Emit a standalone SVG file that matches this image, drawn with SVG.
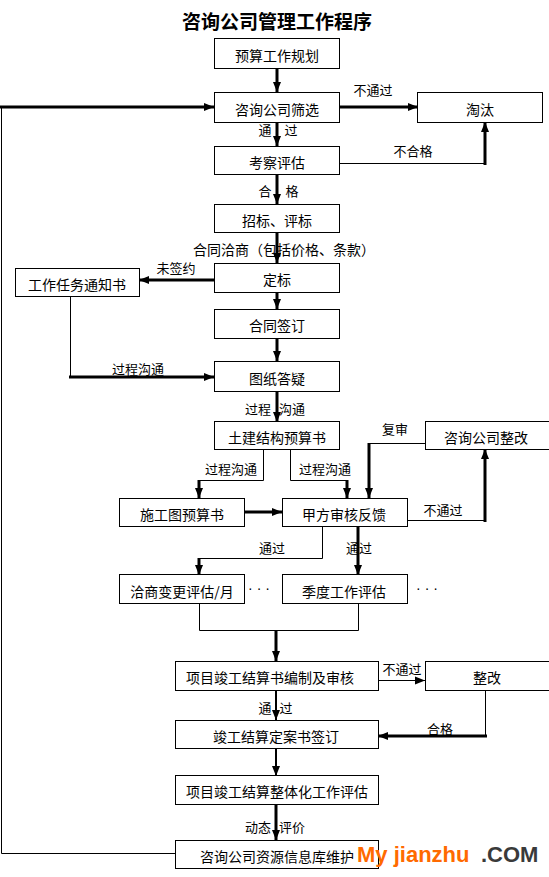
<svg xmlns="http://www.w3.org/2000/svg" width="549" height="877" viewBox="0 0 549 877">
<style>
.box{fill:#fff;stroke:#000;stroke-width:1}
.t{font-family:"Noto Sans CJK SC","Noto Sans CJK TC",sans-serif;font-size:14px;text-anchor:middle;dominant-baseline:central;fill:#000}
.l{font-family:"Noto Sans CJK SC","Noto Sans CJK TC",sans-serif;font-size:13px;text-anchor:middle;dominant-baseline:central;fill:#000}
.dots{font-family:"Liberation Sans",Arial,sans-serif;font-size:14px;text-anchor:middle;dominant-baseline:central;fill:#000}
.ls{text-anchor:start}
.le{text-anchor:end}
.thick{stroke:#000;stroke-width:3;fill:none}
.mid{stroke:#000;stroke-width:2;fill:none}
.thin{stroke:#000;stroke-width:1;fill:none}
.ar{marker-end:url(#ah)}
</style>
<defs>
<marker id="ah" markerUnits="userSpaceOnUse" markerWidth="10" markerHeight="10" viewBox="0 0 10 10" refX="10" refY="5" orient="auto">
<path d="M0,1 L10,5 L0,9 z" fill="#000"/>
</marker>
</defs>
<rect width="549" height="877" fill="#fff"/>
<text x="277" y="20" style="font-family:'Noto Sans CJK SC','Noto Sans CJK TC',sans-serif;font-size:19px;font-weight:bold;text-anchor:middle;dominant-baseline:central">咨询公司管理工作程序</text>

<g id="connectors">
<path class="thick ar" d="M277,68 V92"/>
<path class="thin" d="M175,853.5 H1.5 V107"/>
<path class="thick ar" d="M0,107 H214"/>
<path class="thick ar" d="M339,107 H418"/>
<path class="thick ar" d="M277,122 V146"/>
<path class="thin" d="M339,163.5 H485"/>
<path class="thick ar" d="M485,165 V122"/>
<path class="thick ar" d="M277,174 V204"/>
<path class="thick ar" d="M277,232 V263"/>
<path class="thick ar" d="M214,280 H139"/>
<path class="thick ar" d="M277,292 V309"/>
<path class="thick ar" d="M277,338 V361"/>
<path class="thin" d="M70.5,296 V377"/>
<path class="thick ar" d="M69,377 H214"/>
<path class="thick ar" d="M277,391 V422"/>
<path class="thin" d="M263.5,449 V480.5 H199"/>
<path class="thick ar" d="M199,480 V498"/>
<path class="thin" d="M290.5,449 V480.5 H347"/>
<path class="thick ar" d="M347,480 V498"/>
<path class="thin" d="M425,443.5 H369"/>
<path class="thick ar" d="M369,443 V498"/>
<path class="thick ar" d="M244,512 H282"/>
<path class="thin" d="M407,520.5 H485"/>
<path class="thick ar" d="M485,522 V449"/>
<path class="thin" d="M322.5,527 V558.5 H199"/>
<path class="thick ar" d="M199,558 V575"/>
<path class="thick ar" d="M358,527 V575"/>
<path class="thin" d="M199.5,604 V630.5 H358.5 V604"/>
<path class="thick ar" d="M276,630 V661"/>
<path class="thin ar" d="M378,680.5 H425"/>
<path class="thin" d="M485.5,690 V736"/>
<path class="thick ar" d="M487,736 H378"/>
<path class="mid ar" d="M276,690 V720"/>
<path class="mid ar" d="M276,748 V776"/>
<path class="thick ar" d="M276,804 V840"/>
</g>

<g id="labels">
<text class="l" x="373" y="89">不通过</text>
<text class="l" x="265" y="129">通</text>
<text class="l" x="291" y="129">过</text>
<text class="l" x="413" y="150">不合格</text>
<text class="l" x="265" y="190">合</text>
<text class="l" x="292" y="190">格</text>
<text class="t" x="284" y="249">合同洽商（包括价格、条款）</text>
<text class="l" x="176" y="267">未签约</text>
<text class="l" x="138" y="368">过程沟通</text>
<text class="l le" x="271" y="408">过程</text>
<text class="l ls" x="279" y="408">沟通</text>
<text class="l" x="395" y="428">复审</text>
<text class="l" x="231" y="468">过程沟通</text>
<text class="l" x="325" y="468">过程沟通</text>
<text class="l" x="443" y="509">不通过</text>
<text class="l" x="272" y="547">通过</text>
<text class="l" x="359" y="547">通过</text>
<text class="dots" x="259" y="588">· · ·</text>
<text class="dots" x="427" y="588">· · ·</text>
<text class="l" x="402" y="668">不通过</text>
<text class="l" x="265" y="707">通</text>
<text class="l" x="286" y="707">过</text>
<text class="l" x="440" y="728">合格</text>
<text class="l le" x="271" y="826">动态</text>
<text class="l ls" x="279" y="826">评价</text>
</g>

<g id="n1"><rect class="box" x="214.5" y="38.5" width="125" height="30"/><text class="t" x="277" y="55">预算工作规划</text></g>
<g id="n2"><rect class="box" x="214.5" y="92.5" width="125" height="30"/><text class="t" x="277" y="109">咨询公司筛选</text></g>
<g id="n3"><rect class="box" x="417.5" y="92.5" width="125" height="30"/><text class="t" x="480" y="109">淘汰</text></g>
<g id="n4"><rect class="box" x="214.5" y="146.5" width="125" height="28"/><text class="t" x="277" y="162">考察评估</text></g>
<g id="n5"><rect class="box" x="214.5" y="204.5" width="125" height="28"/><text class="t" x="277" y="220">招标、评标</text></g>
<g id="n6"><rect class="box" x="214.5" y="263.5" width="125" height="29"/><text class="t" x="277" y="279">定标</text></g>
<g id="n7"><rect class="box" x="15.5" y="268.5" width="124" height="28"/><text class="t" x="77" y="284">工作任务通知书</text></g>
<g id="n8"><rect class="box" x="214.5" y="309.5" width="125" height="29"/><text class="t" x="277" y="325">合同签订</text></g>
<g id="n9"><rect class="box" x="214.5" y="361.5" width="125" height="30"/><text class="t" x="277" y="378">图纸答疑</text></g>
<g id="n10"><rect class="box" x="214.5" y="421.5" width="125" height="28"/><text class="t" x="277" y="437">土建结构预算书</text></g>
<g id="n11"><rect class="box" x="425.5" y="421.5" width="124" height="28"/><text class="t" x="486" y="437">咨询公司整改</text></g>
<g id="n12"><rect class="box" x="119.5" y="498.5" width="125" height="28"/><text class="t" x="182" y="514">施工图预算书</text></g>
<g id="n13"><rect class="box" x="282.5" y="498.5" width="125" height="28"/><text class="t" x="344" y="514">甲方审核反馈</text></g>
<g id="n14"><rect class="box" x="119.5" y="574.5" width="125" height="29"/><text class="t" x="182" y="591">洽商变更评估/月</text></g>
<g id="n15"><rect class="box" x="282.5" y="574.5" width="125" height="29"/><text class="t" x="344" y="591">季度工作评估</text></g>
<g id="n16"><rect class="box" x="175.5" y="661.5" width="203" height="29"/><text class="t ls" x="186" y="677">项目竣工结算书编制及审核</text></g>
<g id="n17"><rect class="box" x="425.5" y="661.5" width="124" height="29"/><text class="t" x="487" y="677">整改</text></g>
<g id="n18"><rect class="box" x="175.5" y="720.5" width="203" height="28"/><text class="t" x="276" y="736">竣工结算定案书签订</text></g>
<g id="n19"><rect class="box" x="175.5" y="775.5" width="203" height="29"/><text class="t" x="277" y="791">项目竣工结算整体化工作评估</text></g>
<g id="n20"><rect class="box" x="175.5" y="840.5" width="203" height="28"/><text class="t" x="277" y="856">咨询公司资源信息库维护</text></g>

<g id="watermark" style="font-family:'Liberation Sans',Arial,sans-serif;font-weight:bold;font-size:22px">
<text x="357" y="862" fill="#ff6a00">My jianzhu</text>
<text x="481" y="862" fill="#3a3a3a">.COM</text>
</g>
</svg>
